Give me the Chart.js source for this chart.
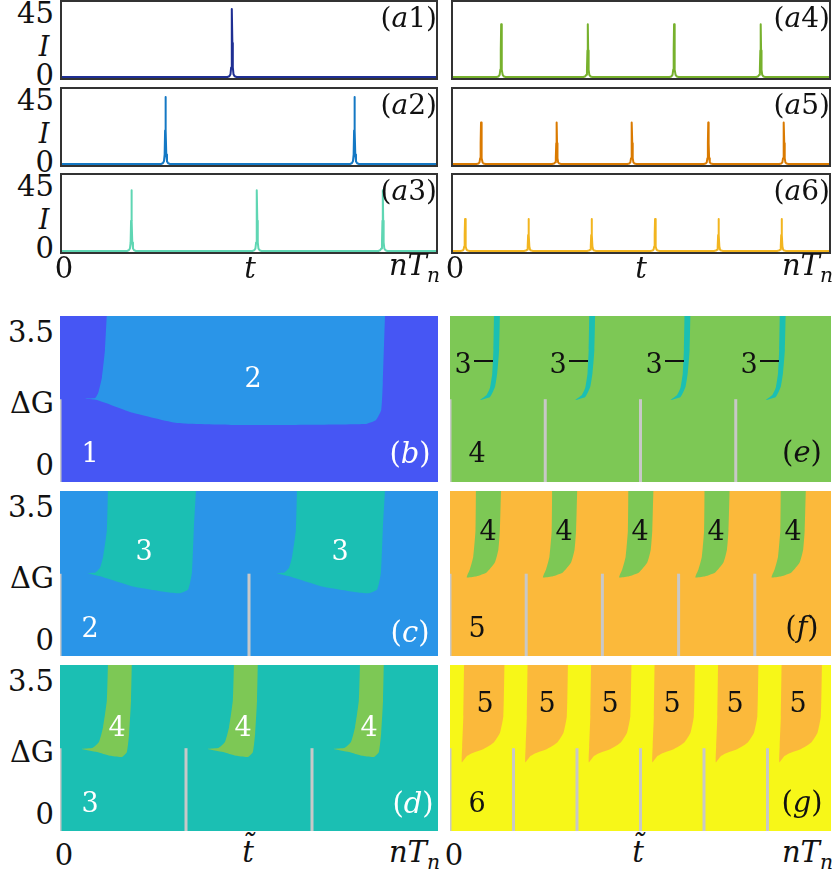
<!DOCTYPE html>
<html>
<head>
<meta charset="utf-8">
<script src="https://cdn.jsdelivr.net/npm/chart.js@4.4.0/dist/chart.umd.min.js"></script>
<style>
  body { margin: 0; background: #fff; }
  #fig { position: relative; width: 832px; height: 871px; overflow: hidden;
         font-family: "DejaVu Serif", "Liberation Serif", serif; color: #111; }
  #fig canvas { position: absolute; }
  .t { position: absolute; white-space: nowrap; line-height: 1; }
</style>
</head>
<body>
<div id="fig"></div>
<script>
// ---- top row: pulse positions (fraction of nT_n) and peak heights of I ----
const peaksA1 = [0.455];
const peaksA2 = [0.279, 0.779];
const peaksA3 = [0.189, 0.521, 0.854];
const peaksA4 = [0.132, 0.360, 0.587, 0.815];
const peaksA5 = [0.079, 0.278, 0.476, 0.677, 0.876];
const peaksA6 = [0.037, 0.204, 0.370, 0.537, 0.704, 0.870];
const peakHeights = [47.9, 47.2, 42.2, 37.2, 29.3, 22.2];
// pulse profile read from the zoomed peaks (offset in t, fraction of the peak)
const pulseDx    = [-0.012, -0.007, -0.004, -0.0022, -0.001, 0, 0.001, 0.0022, 0.004, 0.007, 0.012];
const pulseShape = [0, 0.01, 0.04, 0.14, 0.5, 1, 0.5, 0.14, 0.04, 0.01, 0];
const lineColors = ['#1f2f93', '#1478c4', '#5fd6b3', '#77b12d', '#da7a00', '#f2b51f'];
const yTicksA = ['0', '45'];
const yRangeA = [-2.14, 54.3];

// ---- bottom panels: region outlines in (t fraction, ΔG) ----
const regionB_t = [0.124, 0.119, 0.111, 0.101, 0.093, 0.061, 0.098, 0.193, 0.31, 0.458, 0.81, 0.836, 0.85, 0.854, 0.86];
const regionB_g = [4, 3.03, 2.31, 1.89, 1.76, 1.74, 1.71, 1.37, 1.10, 1.05, 1.08, 1.18, 1.45, 2.16, 4];
const regionC_t = [0.127, 0.124, 0.114, 0.106, 0.093, 0.074, 0.106, 0.193, 0.283, 0.317, 0.339, 0.349, 0.354, 0.360];
const regionC_g = [4, 2.89, 2.18, 1.89, 1.76, 1.74, 1.66, 1.39, 1.24, 1.21, 1.31, 1.76, 2.89, 4];
const regionD_t = [0.127, 0.124, 0.114, 0.103, 0.087, 0.058, 0.098, 0.132, 0.164, 0.177, 0.183, 0.188, 0.190];
const regionD_g = [4, 3.0, 2.29, 1.89, 1.74, 1.71, 1.63, 1.53, 1.50, 1.63, 2.13, 3.0, 4];
const regionE_t = [0.1155, 0.114, 0.111, 0.105, 0.096, 0.079, 0.105, 0.118, 0.124, 0.129, 0.131];
const regionE_g = [4, 3.03, 2.42, 2.03, 1.84, 1.71, 1.79, 2.05, 2.42, 3.03, 4];
const regionF_t = [0.068, 0.067, 0.061, 0.052, 0.044, 0.070, 0.096, 0.118, 0.127, 0.131, 0.134];
const regionF_g = [4, 2.89, 2.18, 1.84, 1.63, 1.66, 1.76, 2.03, 2.37, 2.89, 4];
const regionG_t = [0.037, 0.035, 0.032, 0.031, 0.044, 0.061, 0.087, 0.114, 0.131, 0.140, 0.143];
const regionG_g = [4, 2.57, 1.78, 1.36, 1.52, 1.61, 1.70, 1.87, 2.13, 2.57, 4];
const repeats = [1, 2, 3, 4, 5, 6];          // number of windows in (b)..(g)
const backgroundRegion = [1, 2, 3, 4, 5, 6]; // region number filling each panel
const tongueRegion = [2, 3, 4, 3, 4, 5];     // region number of the tongues
const gateTop = 1.73;                        // top of the grey separators
const regionColors = { 1: '#4656f4', 2: '#2a95e8', 3: '#1bbfb3', 4: '#7dc855', 5: '#fbb93b', 6: '#f7f718' };
const yTicksB = ['0', '3.5'];
const yRangeB = [-0.45, 3.92];
const xTickLabels = ['0', '<i>t</i>', '<i>nT</i><sub style="font-size:0.7em"><i>n</i></sub>'];
const xTickLabelsB = ['0', '<i>t&#771;</i>', '<i>nT</i><sub style="font-size:0.7em"><i>n</i></sub>'];

const fig = document.getElementById('fig');

const panelDecor = {
  id: 'panelDecor',
  beforeDraw(chart, args, opts) {
    if (!opts.bg) return;
    const { ctx, chartArea: a } = chart;
    ctx.save();
    ctx.fillStyle = opts.bg;
    ctx.fillRect(a.left, a.top, a.width, a.height);
    ctx.restore();
  },
  afterDraw(chart, args, opts) {
    if (!opts.frame) return;
    const { ctx, chartArea: a } = chart;
    ctx.save();
    ctx.strokeStyle = '#333';
    ctx.lineWidth = 2;
    ctx.strokeRect(a.left + 1, a.top + 1, a.width - 2, a.height - 2);
    ctx.restore();
  }
};

function makeCanvas(box) {
  const c = document.createElement('canvas');
  c.width = box.w; c.height = box.h;
  c.style.left = box.x + 'px'; c.style.top = box.y + 'px';
  c.style.width = box.w + 'px'; c.style.height = box.h + 'px';
  fig.appendChild(c);
  return c;
}

function label(html, x, y, opts = {}) {
  const d = document.createElement('div');
  d.className = 't';
  d.innerHTML = html;
  d.style.left = x + 'px';
  d.style.top = y + 'px';
  d.style.fontSize = (opts.size || 29) + 'px';
  if (opts.color) d.style.color = opts.color;
  const ax = opts.align === 'right' ? '-100%' : '-50%';
  d.style.transform = 'translate(' + ax + ', -50%)';
  fig.appendChild(d);
}

function baseOptions(yr, decor) {
  return {
    responsive: false, animation: false, devicePixelRatio: 1,
    layout: { padding: 0 },
    plugins: { legend: { display: false }, tooltip: { enabled: false }, panelDecor: decor },
    elements: { point: { radius: 0 } },
    scales: {
      x: { type: 'linear', display: false, min: 0, max: 1 },
      y: { type: 'linear', display: false, min: yr[0], max: yr[1] }
    }
  };
}

// ---- top row ----
const peakSets = [peaksA1, peaksA2, peaksA3, peaksA4, peaksA5, peaksA6];
const topBoxes = [
  { x: 60, y: 0, w: 378, h: 80 }, { x: 60, y: 87, w: 378, h: 80 }, { x: 60, y: 173, w: 378, h: 81 },
  { x: 451, y: 0, w: 380, h: 80 }, { x: 451, y: 87, w: 380, h: 80 }, { x: 451, y: 173, w: 380, h: 81 }
];
const topNames = ['1', '2', '3', '4', '5', '6'];

peakSets.forEach((peaks, i) => {
  const pts = [{ x: 0, y: 0 }];
  peaks.forEach(p => {
    pulseDx.forEach((dx, j) => pts.push({ x: p + dx, y: peakHeights[i] * pulseShape[j] }));
  });
  pts.push({ x: 1, y: 0 });
  const box = topBoxes[i];
  new Chart(makeCanvas(box), {
    type: 'line',
    data: { datasets: [{ data: pts, borderColor: lineColors[i], borderWidth: 2, borderJoinStyle: 'round', tension: 0, fill: false }] },
    options: baseOptions(yRangeA, { frame: true }),
    plugins: [panelDecor]
  });
  label('(<i>a</i>' + topNames[i] + ')', box.x + box.w - 1, box.y + 18, { align: 'right', size: 28 });
  if (i < 3) {
    label(yTicksA[1], 54, box.y + 13, { align: 'right' });
    label('<i>I</i>', 44, box.y + 46, { size: 27 });
    label(yTicksA[0], 54, box.y + 75, { align: 'right' });
  }
});
[[60, 438], [451, 831]].forEach(([l, r]) => {
  label(xTickLabels[0], l + 4, 268);
  label(xTickLabels[1], l + 190, 268);
  label(xTickLabels[2], r + 2, 268, { align: 'right' });
});

// ---- bottom panels ----
const regionT = [regionB_t, regionC_t, regionD_t, regionE_t, regionF_t, regionG_t];
const regionG = [regionB_g, regionC_g, regionD_g, regionE_g, regionF_g, regionG_g];
const botBoxes = [
  { x: 60, y: 316, w: 378, h: 166 }, { x: 60, y: 491, w: 378, h: 165 }, { x: 60, y: 665, w: 378, h: 166 },
  { x: 450, y: 316, w: 381, h: 166 }, { x: 450, y: 491, w: 381, h: 165 }, { x: 450, y: 665, w: 381, h: 166 }
];

botBoxes.forEach((box, i) => {
  const n = repeats[i];
  const period = 1 / n;
  const datasets = [];
  for (let k = 0; k < n; k++) {
    datasets.push({
      data: [{ x: k * period, y: yRangeB[0] }, { x: k * period, y: gateTop }],
      borderColor: '#c8c8c8', borderWidth: 3, fill: false, order: 0
    });
    datasets.push({
      data: regionT[i].map((t, j) => ({ x: t + k * period, y: regionG[i][j] })),
      borderWidth: 0, borderColor: 'rgba(0,0,0,0)',
      backgroundColor: regionColors[tongueRegion[i]], fill: 'shape', tension: 0.15, order: 1
    });
  }
  new Chart(makeCanvas(box), {
    type: 'line',
    data: { datasets },
    options: baseOptions(yRangeB, { bg: regionColors[backgroundRegion[i]] }),
    plugins: [panelDecor]
  });
  if (i < 3) {
    label(yTicksB[1], 54, box.y + 16, { align: 'right' });
    label('&Delta;G', 54, box.y + 87, { align: 'right' });
    label(yTicksB[0], 54, box.y + 149, { align: 'right' });
  }
});
[[60, 438], [450, 831]].forEach(([l, r]) => {
  label(xTickLabelsB[0], l + 4, 855);
  label(xTickLabelsB[1], l + 188, 852);
  label(xTickLabelsB[2], r + 2, 855, { align: 'right' });
});

// region numbers and panel tags
const W = '#fff', K = '#111';
label('2', 253, 377, { color: W, size: 27 });
label('1', 90, 452, { color: W, size: 27 });
label('(<i>b</i>)', 410, 453, { color: W });
[144, 340].forEach(x => label('3', x, 550, { color: W, size: 27 }));
label('2', 90, 627, { color: W, size: 27 });
label('(<i>c</i>)', 410, 632, { color: W });
[117, 243, 369].forEach(x => label('4', x, 726, { color: W, size: 27 }));
label('3', 90, 802, { color: W, size: 27 });
label('(<i>d</i>)', 413, 803, { color: W });

[463, 558, 654, 749].forEach(x => {
  label('3', x, 363, { color: K, size: 27 });
  const bar = document.createElement('div');
  bar.style.cssText = 'position:absolute;left:' + (x + 11) + 'px;top:360px;width:19px;height:0;border-top:2px solid #111;';
  fig.appendChild(bar);
});
label('4', 477, 452, { color: K, size: 27 });
label('(<i>e</i>)', 802, 452, { color: K });
[488, 564, 640, 716, 793].forEach(x => label('4', x, 530, { color: K, size: 27 }));
label('5', 477, 627, { color: K, size: 27 });
label('(<i>f</i>)', 802, 627, { color: K });
[485, 547, 610, 672, 735, 798].forEach(x => label('5', x, 702, { color: K, size: 27 }));
label('6', 477, 802, { color: K, size: 27 });
label('(<i>g</i>)', 802, 802, { color: K });
</script>
</body>
</html>
